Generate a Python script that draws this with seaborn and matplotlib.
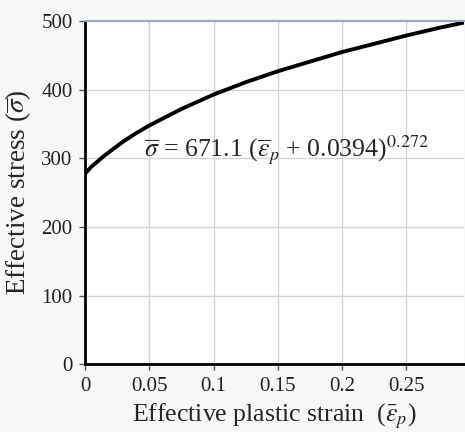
import numpy as np
import pandas as pd
import matplotlib
matplotlib.use("Agg")
import matplotlib.pyplot as plt
import seaborn as sns

# values
strain = [0, 0.005, 0.01, 0.015, 0.02, 0.03, 0.04, 0.05, 0.075, 0.1, 0.125,
          0.15, 0.175, 0.2, 0.225, 0.25, 0.275, 0.295]
stress = [278, 288, 296, 304, 311, 325, 337, 348, 372, 393, 411,
          427, 441, 455, 467, 479, 490, 498]
x_ticks = [0, 0.05, 0.1, 0.15, 0.2, 0.25]
x_tick_labels = ["0", "0.05", "0.1", "0.15", "0.2", "0.25"]
y_ticks = [0, 100, 200, 300, 400, 500]

df = pd.DataFrame({"strain": strain, "stress": stress})

sns.set_style("whitegrid")
plt.rcParams["font.family"] = ["Liberation Serif", "DejaVu Serif"]
plt.rcParams["mathtext.fontset"] = "stix"

fig = plt.figure(figsize=(4.65, 4.32), dpi=100, facecolor="#f7f7f7")
ax = fig.add_axes([0.183, 0.157, 0.815, 0.794])
ax.set_facecolor("white")

sns.lineplot(data=df, x="strain", y="stress", ax=ax, color="black", linewidth=2.8)

ax.set_xlim(0, 0.295)
ax.set_ylim(0, 500)
ax.set_xticks(x_ticks)
ax.set_xticklabels(x_tick_labels)
ax.set_yticks(y_ticks)
ax.grid(True, color="#d4d4d4", linewidth=1)
ax.tick_params(axis="both", labelsize=15, length=4, width=1, color="#555555",
               direction="out", left=True, bottom=True, pad=5, labelcolor="#222222")

ax.spines["right"].set_visible(False)
ax.spines["top"].set_color("#9aa7b8")
ax.spines["top"].set_linewidth(1.5)
ax.spines["left"].set_color("black")
ax.spines["left"].set_linewidth(2)
ax.spines["bottom"].set_color("black")
ax.spines["bottom"].set_linewidth(2)

ax.set_xlabel(r"Effective plastic strain  ($\bar{\varepsilon}_p$)", fontsize=18.5, labelpad=4)
ax.set_ylabel(r"Effective stress ($\overline{\sigma}$)", fontsize=19.5, labelpad=6)

ax.text(0.046, 312, r"$\overline{\sigma}$ = 671.1 ($\overline{\varepsilon}_p$ + 0.0394)$^{0.272}$",
        fontsize=18.5, va="center", ha="left")

fig.savefig("out.png", dpi=100, facecolor=fig.get_facecolor())
